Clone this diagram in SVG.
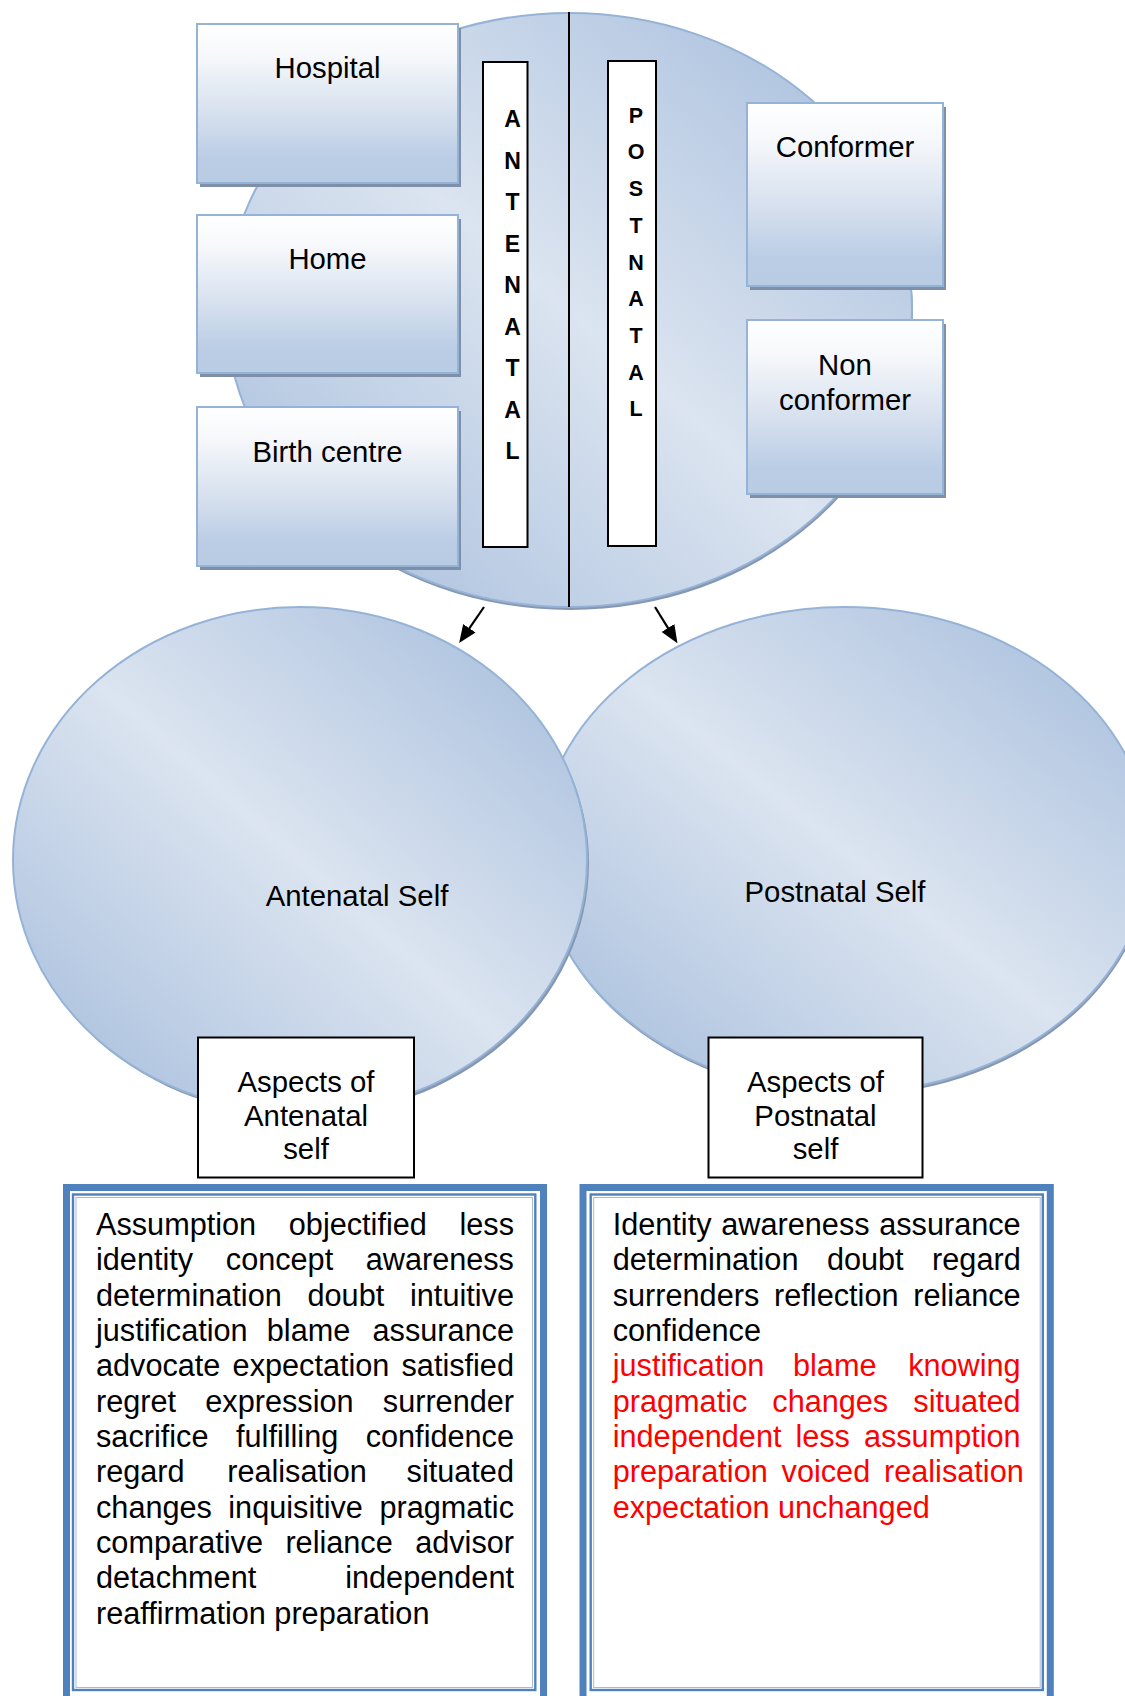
<svg xmlns="http://www.w3.org/2000/svg" width="1125" height="1696" viewBox="0 0 1125 1696">
<defs>
<linearGradient id="gEll" x1="1" y1="0" x2="0" y2="1">
<stop offset="0" stop-color="#a3bbdb"/>
<stop offset="0.5" stop-color="#dbe4f0"/>
<stop offset="1" stop-color="#a3bbdb"/>
</linearGradient>
<linearGradient id="gBox" x1="0" y1="0" x2="0" y2="1">
<stop offset="0" stop-color="#ffffff"/>
<stop offset="0.2" stop-color="#f6f8fb"/>
<stop offset="0.6" stop-color="#d3deed"/>
<stop offset="0.85" stop-color="#bacde5"/>
<stop offset="1" stop-color="#b8cce4"/>
</linearGradient>
<marker id="arr" markerUnits="userSpaceOnUse" viewBox="0 0 18 15" markerWidth="18" markerHeight="15" refX="1" refY="7.5" orient="auto">
<path d="M0,0 L18,7.5 L0,15 z" fill="#000"/>
</marker>
</defs>
<style>
text{font-family:"Liberation Sans",Arial,sans-serif;fill:#000}
.lbl{font-size:29.33px;text-anchor:middle}
.body{font-size:30.67px}
.red{fill:#ff0000}
.ltrA{font-size:23px;font-weight:bold;text-anchor:middle}
.ltrP{font-size:21.5px;font-weight:bold;text-anchor:middle}
.ell{fill:url(#gEll);stroke:#95b3d7;stroke-width:2}
.esh{fill:#8797b0}
.box{fill:url(#gBox);stroke:#95b3d7;stroke-width:2}
.bsh{fill:#7f8fa8}
.strip{fill:#fff;stroke:#000;stroke-width:2}
.wbox{fill:#fff;stroke:#000;stroke-width:2}
.thick{fill:#fff;stroke:#4f81bd;stroke-width:7}
.mid{fill:none;stroke:#4f81bd;stroke-width:2.4}
.thin{fill:none;stroke:#a5bbd9;stroke-width:1}
.conn{stroke:#000;stroke-width:2.2;fill:none;marker-end:url(#arr)}
.div{stroke:#000;stroke-width:2}
</style>

<g id="topCircle">
<ellipse class="esh" cx="570" cy="313" rx="343" ry="297"/>
<ellipse class="ell" cx="569" cy="310" rx="343" ry="297"/>
<line class="div" x1="569" y1="12" x2="569" y2="607"/>
</g>

<g id="antenatalStrip">
<rect class="strip" x="483" y="62" width="44.5" height="485"/>
<text class="ltrA" x="512.5" y="127">A</text>
<text class="ltrA" x="512.5" y="168.5">N</text>
<text class="ltrA" x="512.5" y="210">T</text>
<text class="ltrA" x="512.5" y="251.5">E</text>
<text class="ltrA" x="512.5" y="293">N</text>
<text class="ltrA" x="512.5" y="334.5">A</text>
<text class="ltrA" x="512.5" y="376">T</text>
<text class="ltrA" x="512.5" y="417.5">A</text>
<text class="ltrA" x="512.5" y="459">L</text>
</g>

<g id="postnatalStrip">
<rect class="strip" x="608" y="61" width="48" height="485"/>
<text class="ltrP" x="636" y="122.7">P</text>
<text class="ltrP" x="636" y="159.4">O</text>
<text class="ltrP" x="636" y="196.1">S</text>
<text class="ltrP" x="636" y="232.8">T</text>
<text class="ltrP" x="636" y="269.5">N</text>
<text class="ltrP" x="636" y="306.2">A</text>
<text class="ltrP" x="636" y="342.9">T</text>
<text class="ltrP" x="636" y="379.6">A</text>
<text class="ltrP" x="636" y="416.3">L</text>
</g>

<g id="hospital">
<rect class="bsh" x="200" y="28" width="261" height="159"/>
<rect class="box" x="197" y="24" width="261" height="159"/>
<text class="lbl" x="327.5" y="78">Hospital</text>
</g>
<g id="home">
<rect class="bsh" x="200" y="219" width="261" height="158"/>
<rect class="box" x="197" y="215" width="261" height="158"/>
<text class="lbl" x="327.5" y="268.5">Home</text>
</g>
<g id="birthCentre">
<rect class="bsh" x="200" y="411" width="261" height="159"/>
<rect class="box" x="197" y="407" width="261" height="159"/>
<text class="lbl" x="327.5" y="462">Birth centre</text>
</g>
<g id="conformer">
<rect class="bsh" x="750" y="107" width="196" height="183"/>
<rect class="box" x="747" y="103" width="196" height="183"/>
<text class="lbl" x="845" y="157">Conformer</text>
</g>
<g id="nonConformer">
<rect class="bsh" x="750" y="324" width="196" height="174"/>
<rect class="box" x="747" y="320" width="196" height="174"/>
<text class="lbl" x="845" y="375">Non</text>
<text class="lbl" x="845" y="410">conformer</text>
</g>

<g id="postnatalSelf">
<ellipse class="esh" cx="846" cy="853" rx="305" ry="243"/>
<ellipse class="ell" cx="845" cy="850" rx="305" ry="243"/>
<text class="lbl" x="835" y="902">Postnatal Self</text>
</g>
<g id="antenatalSelf">
<ellipse class="esh" cx="302" cy="863" rx="287" ry="253"/>
<ellipse class="ell" cx="300" cy="860" rx="287" ry="253"/>
<text class="lbl" x="357" y="905.5">Antenatal Self</text>
</g>

<g id="aspectsAntenatal">
<rect class="wbox" x="198" y="1037.5" width="216" height="140"/>
<text class="lbl" x="306" y="1092">Aspects of</text>
<text class="lbl" x="306" y="1125.5">Antenatal</text>
<text class="lbl" x="306" y="1159">self</text>
</g>
<g id="aspectsPostnatal">
<rect class="wbox" x="708.5" y="1037.5" width="214" height="140"/>
<text class="lbl" x="815.5" y="1092">Aspects of</text>
<text class="lbl" x="815.5" y="1125.5">Postnatal</text>
<text class="lbl" x="815.5" y="1159">self</text>
</g>

<g id="antenatalAspectsList">
<rect class="thick" x="66.5" y="1187.5" width="477" height="530"/>
<rect class="mid" x="73" y="1194.5" width="462.3" height="495.5"/>
<rect class="thin" x="76" y="1197.5" width="456.5" height="490"/>
<text class="body" y="1235"><tspan x="96">Assumption</tspan><tspan x="288.8">objectified</tspan><tspan x="459.5">less</tspan></text>
<text class="body" y="1270.3"><tspan x="96">identity</tspan><tspan x="225.8">concept</tspan><tspan x="365.7">awareness</tspan></text>
<text class="body" y="1305.7"><tspan x="96">determination</tspan><tspan x="307.5">doubt</tspan><tspan x="410">intuitive</tspan></text>
<text class="body" y="1341"><tspan x="96">justification</tspan><tspan x="266.8">blame</tspan><tspan x="372.5">assurance</tspan></text>
<text class="body" y="1376.3"><tspan x="96">advocate</tspan><tspan x="232.6">expectation</tspan><tspan x="401.5">satisfied</tspan></text>
<text class="body" y="1411.7"><tspan x="96">regret</tspan><tspan x="205.3">expression</tspan><tspan x="382.8">surrender</tspan></text>
<text class="body" y="1447"><tspan x="96">sacrifice</tspan><tspan x="236">fulfilling</tspan><tspan x="365.7">confidence</tspan></text>
<text class="body" y="1482.3"><tspan x="96">regard</tspan><tspan x="227.2">realisation</tspan><tspan x="406.6">situated</tspan></text>
<text class="body" y="1517.7"><tspan x="96">changes</tspan><tspan x="228.3">inquisitive</tspan><tspan x="379.4">pragmatic</tspan></text>
<text class="body" y="1553"><tspan x="96">comparative</tspan><tspan x="285.4">reliance</tspan><tspan x="415.2">advisor</tspan></text>
<text class="body" y="1588.3"><tspan x="96">detachment</tspan><tspan x="345.2">independent</tspan></text>
<text class="body" x="96" y="1623.7">reaffirmation preparation</text>
</g>

<g id="postnatalAspectsList">
<rect class="thick" x="583" y="1187.5" width="467.3" height="530"/>
<rect class="mid" x="590.7" y="1194.5" width="452.1" height="495.5"/>
<rect class="thin" x="593.7" y="1197.5" width="446.5" height="490"/>
<text class="body" y="1235"><tspan x="612.7">Identity</tspan><tspan x="721.3">awareness</tspan><tspan x="879.2">assurance</tspan></text>
<text class="body" y="1270.3"><tspan x="612.7">determination</tspan><tspan x="826.9">doubt</tspan><tspan x="932.1">regard</tspan></text>
<text class="body" y="1305.7"><tspan x="612.7">surrenders</tspan><tspan x="774.1">reflection</tspan><tspan x="913.3">reliance</tspan></text>
<text class="body" x="612.7" y="1341">confidence</text>
<text class="body red" y="1376.3"><tspan x="612.7">justification</tspan><tspan x="793">blame</tspan><tspan x="908.2">knowing</tspan></text>
<text class="body red" y="1411.7"><tspan x="612.7">pragmatic</tspan><tspan x="772.3">changes</tspan><tspan x="913.3">situated</tspan></text>
<text class="body red" y="1447"><tspan x="612.7">independent</tspan><tspan x="795.4">less</tspan><tspan x="863.9">assumption</tspan></text>
<text class="body red" y="1482.3"><tspan x="612.7">preparation</tspan><tspan x="781.6">voiced</tspan><tspan x="884">realisation</tspan></text>
<text class="body red" x="612.7" y="1517.7">expectation unchanged</text>
</g>

<g id="connectors">
<line class="conn" x1="484" y1="607" x2="468.8" y2="629.1"/>
<line class="conn" x1="655" y1="607" x2="668.5" y2="628.8"/>
</g>
</svg>
